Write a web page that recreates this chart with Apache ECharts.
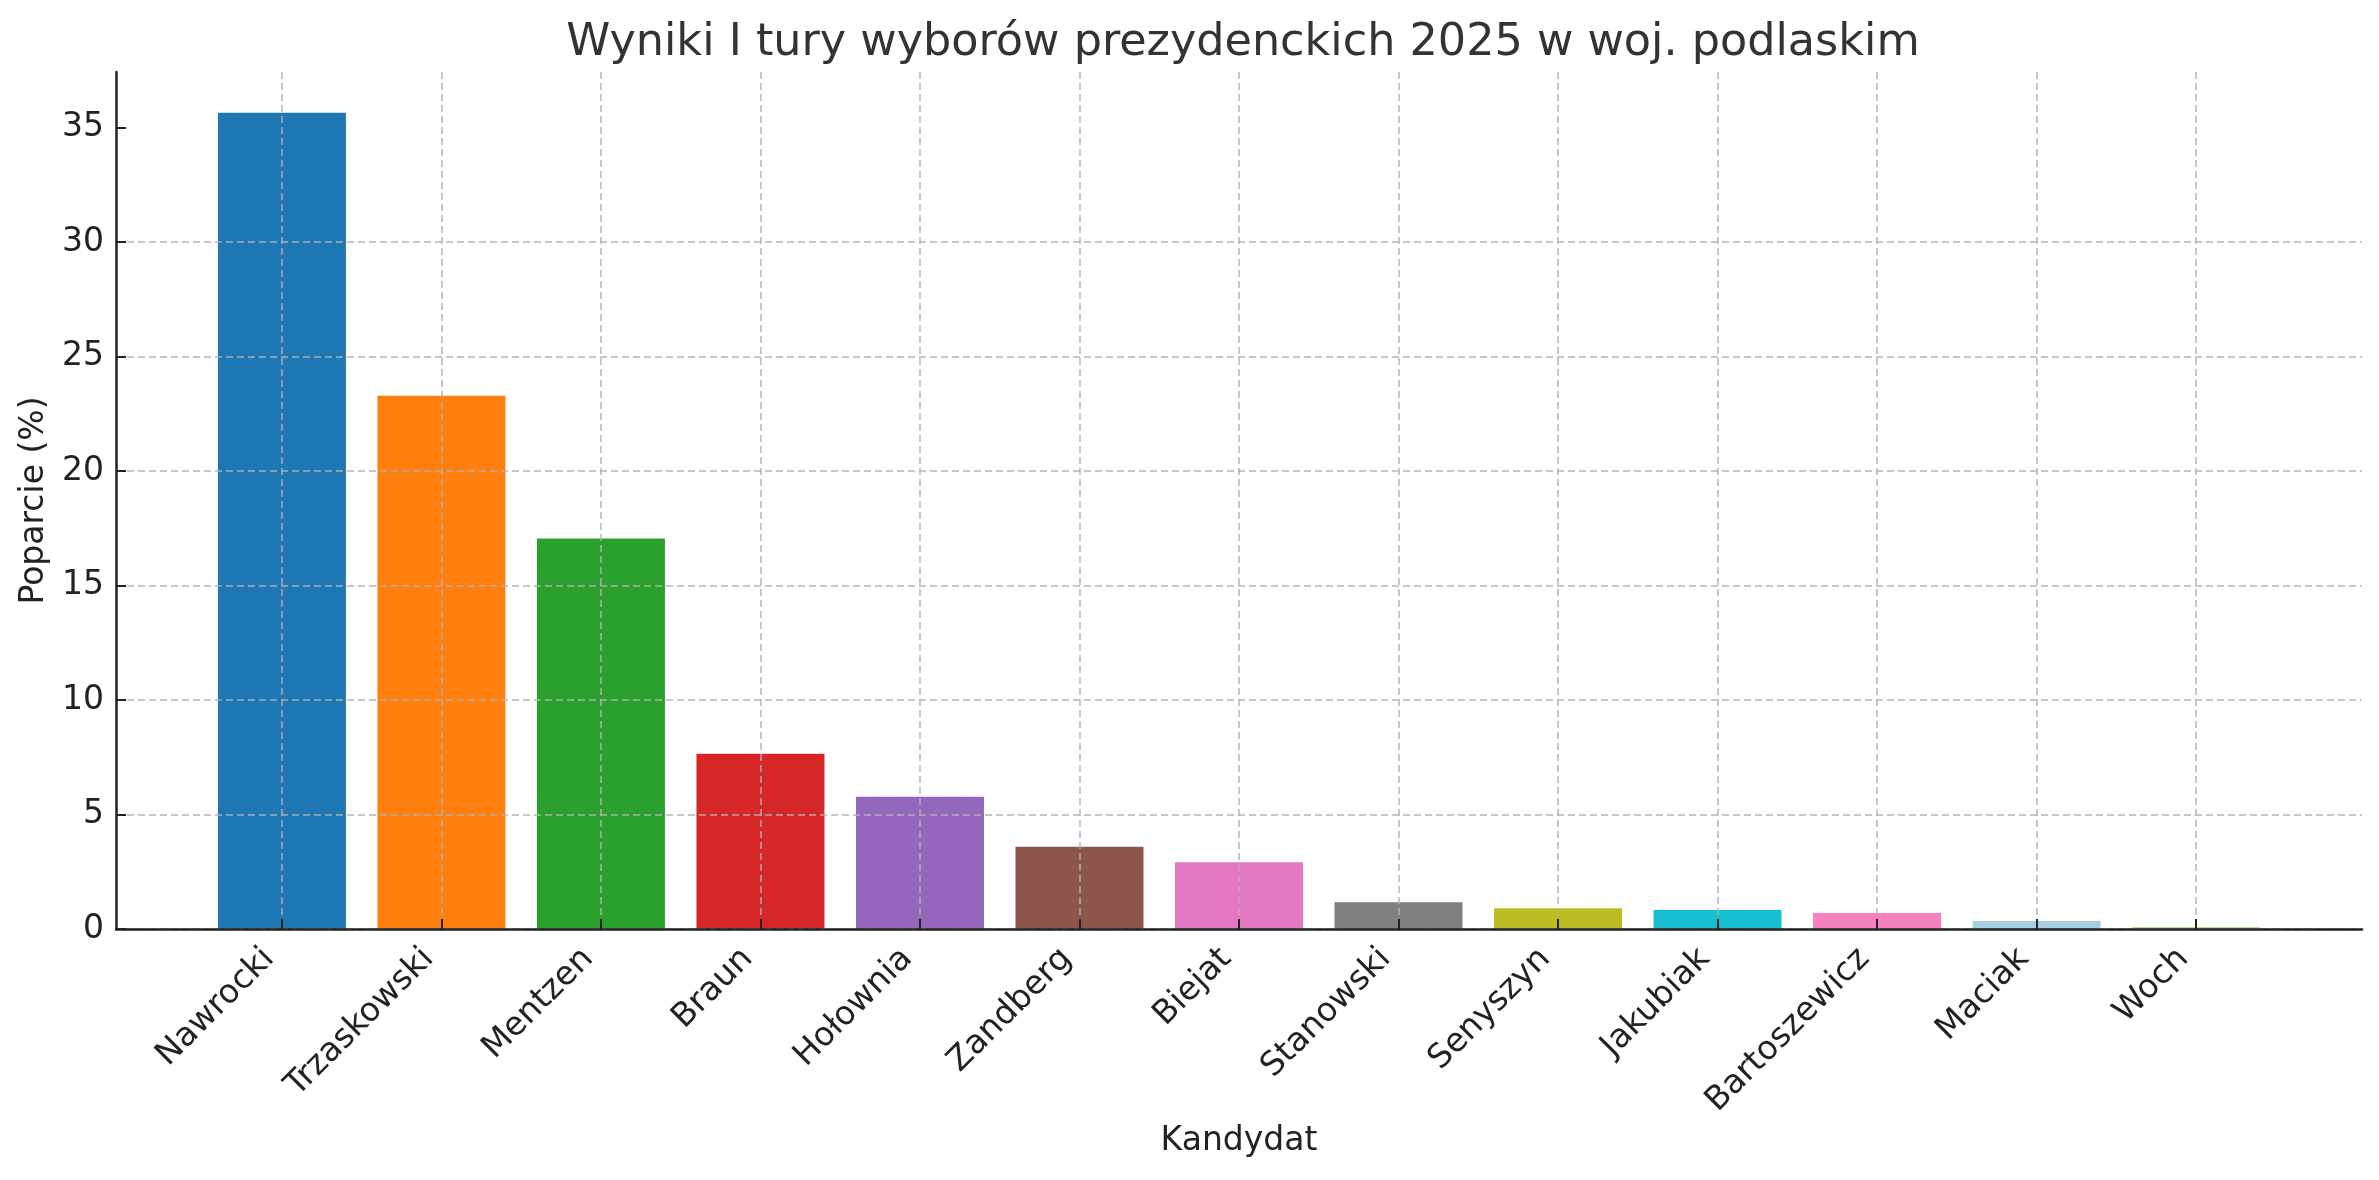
<!DOCTYPE html>
<html>
<head>
<meta charset="utf-8">
<script src="https://cdn.jsdelivr.net/npm/echarts@6.0.0/dist/echarts.min.js"></script>
<style>
  html, body { margin: 0; padding: 0; background: #fff; }
  #chart { width: 2379px; height: 1180px; }
</style>
</head>
<body>
<div id="chart"></div>
<script>
// wyniki I tury, woj. podlaskie
const candidates = ['Nawrocki', 'Trzaskowski', 'Mentzen', 'Braun', 'Hołownia', 'Zandberg',
  'Biejat', 'Stanowski', 'Senyszyn', 'Jakubiak', 'Bartoszewicz', 'Maciak', 'Woch'];
const support = [35.64, 23.28, 17.05, 7.65, 5.77, 3.59, 2.92, 1.17, 0.91, 0.83, 0.70, 0.35, 0.09];
const barColors = ['#1f77b4', '#ff7f0e', '#2ca02c', '#d62728', '#9467bd', '#8c564b', '#e377c2',
  '#7f7f7f', '#bcbd22', '#17becf', '#f781bf', '#a6cee3', '#b2df8a'];
const yTicks = [0, 5, 10, 15, 20, 25, 30, 35];

const font = 'DejaVu Sans';
const xTicks = candidates.map((c, i) => i);
const gridLine = { color: 'rgba(176,176,176,0.7)', width: 2, type: [7, 4] };

const chart = echarts.init(document.getElementById('chart'));
chart.setOption({
  backgroundColor: '#fff',
  animation: false,
  title: {
    text: 'Wyniki I tury wyborów prezydenckich 2025 w woj. podlaskim',
    left: 1238,
    textAlign: 'center',
    top: 16,
    textStyle: { fontFamily: font, fontSize: 44.5, fontWeight: 'normal', color: '#333' }
  },
  grid: { left: 116, right: 17, top: 72, bottom: 251, containLabel: false },
  xAxis: {
    type: 'value',
    min: -1.04,
    max: 13.04,
    z: 5,
    name: 'Kandydat',
    nameLocation: 'middle',
    nameGap: 190,
    nameTextStyle: { fontFamily: font, fontSize: 33, color: '#222' },
    axisLine: { show: true, onZero: false, lineStyle: { color: '#222', width: 2.5 } },
    axisTick: { show: true, inside: true, length: 10, customValues: xTicks,
      lineStyle: { color: '#222', width: 2 } },
    axisLabel: {
      customValues: xTicks,
      rotate: 45,
      margin: 12,
      padding: [0, 18, 0, 0],
      fontFamily: font, fontSize: 33, color: '#222',
      formatter: v => candidates[Math.round(v)] || ''
    },
    splitLine: { show: true, lineStyle: gridLine }
  },
  yAxis: {
    type: 'value',
    min: 0,
    max: 37.42,
    z: 5,
    name: 'Poparcie (%)',
    nameLocation: 'middle',
    nameGap: 64,
    nameTextStyle: { fontFamily: font, fontSize: 33, color: '#222' },
    axisLine: { show: true, onZero: false, lineStyle: { color: '#222', width: 2.5 } },
    axisTick: { show: true, inside: true, length: 10, customValues: yTicks,
      lineStyle: { color: '#222', width: 2 } },
    axisLabel: { customValues: yTicks, margin: 12, fontFamily: font, fontSize: 33, color: '#222' },
    splitLine: { show: true, showMaxLine: false, lineStyle: gridLine }
  },
  series: [{
    type: 'bar',
    barWidth: 128,
    data: support.map((v, i) => ({ value: [i, v], itemStyle: { color: barColors[i] } }))
  }]
});
</script>
</body>
</html>
